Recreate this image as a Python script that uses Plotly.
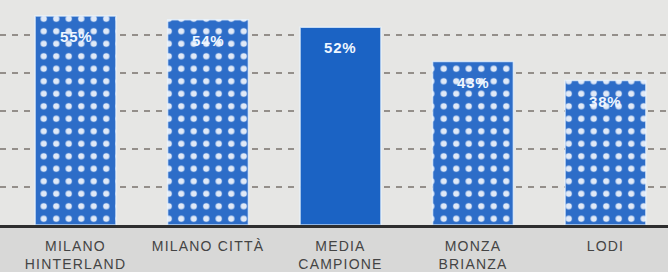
import plotly.graph_objects as go

categories = ["MILANO<br>HINTERLAND", "MILANO CITTÀ", "MEDIA<br>CAMPIONE", "MONZA<br>BRIANZA", "LODI"]
values = [55, 54, 52, 43, 38]
value_labels = ["55%", "54%", "52%", "43%", "38%"]
patterns = [".", ".", "", ".", "."]

BLUE = "#2d6dc8"
SOLID = "#1b63c4"
LIGHT = "#a2d6f5"

x_idx = list(range(len(categories)))
n = len(categories)
tick_text = ['<span style="letter-spacing:1.2px">%s</span>' % c.replace("<br>", '</span><br><span style="letter-spacing:1.2px">') for c in categories]

fig = go.Figure()
fig.add_trace(go.Bar(
    x=x_idx, y=values, width=0.61,
    marker=dict(
        color=[BLUE, BLUE, SOLID, BLUE, BLUE],
        line=dict(color="rgba(235,245,255,0.75)", width=1.5),
        pattern=dict(shape=patterns, fgcolor=[LIGHT] * n, bgcolor=[BLUE, BLUE, SOLID, BLUE, BLUE],
                     fgopacity=0.85, size=12.5, solidity=0.2),
    ),
    hoverinfo="skip",
))

for i, (v, t) in enumerate(zip(values, value_labels)):
    fig.add_annotation(x=i, y=v, text='<span style="letter-spacing:0.8px">%s</span>' % t,
                       showarrow=False, yanchor="top", yshift=-10,
                       font=dict(family="Liberation Sans", size=15, color="#eef6ff", weight="bold"))

# lower label strip (slightly darker band under the baseline)
fig.add_shape(type="rect", xref="paper", yref="paper", x0=0, x1=1, y0=-0.3, y1=0,
              fillcolor="#d8d8d7", line_width=0, layer="below")

fig.update_layout(
    width=668, height=272,
    margin=dict(l=0, r=0, t=0, b=47),
    paper_bgcolor="#e6e6e4",
    plot_bgcolor="#e6e6e4",
    showlegend=False,
)
fig.update_xaxes(
    tickmode="array", tickvals=x_idx, ticktext=tick_text,
    range=[-0.570, 4.472],
    showline=True, linecolor="#2e2e2e", linewidth=3,
    showgrid=False, ticks="", ticklabelstandoff=6,
    tickfont=dict(family="Liberation Sans", size=14, color="#444444"),
)
fig.update_yaxes(
    range=[0, 59.2], tickvals=[10, 20, 30, 40, 50], showticklabels=False,
    showgrid=True, gridcolor="#948f8a", gridwidth=1.6, griddash="6px,6px",
    zeroline=False, showline=False,
)

fig.write_html("out.html", config={"displayModeBar": False},
               post_script="document.body.style.margin='0';document.body.style.padding='0';")
